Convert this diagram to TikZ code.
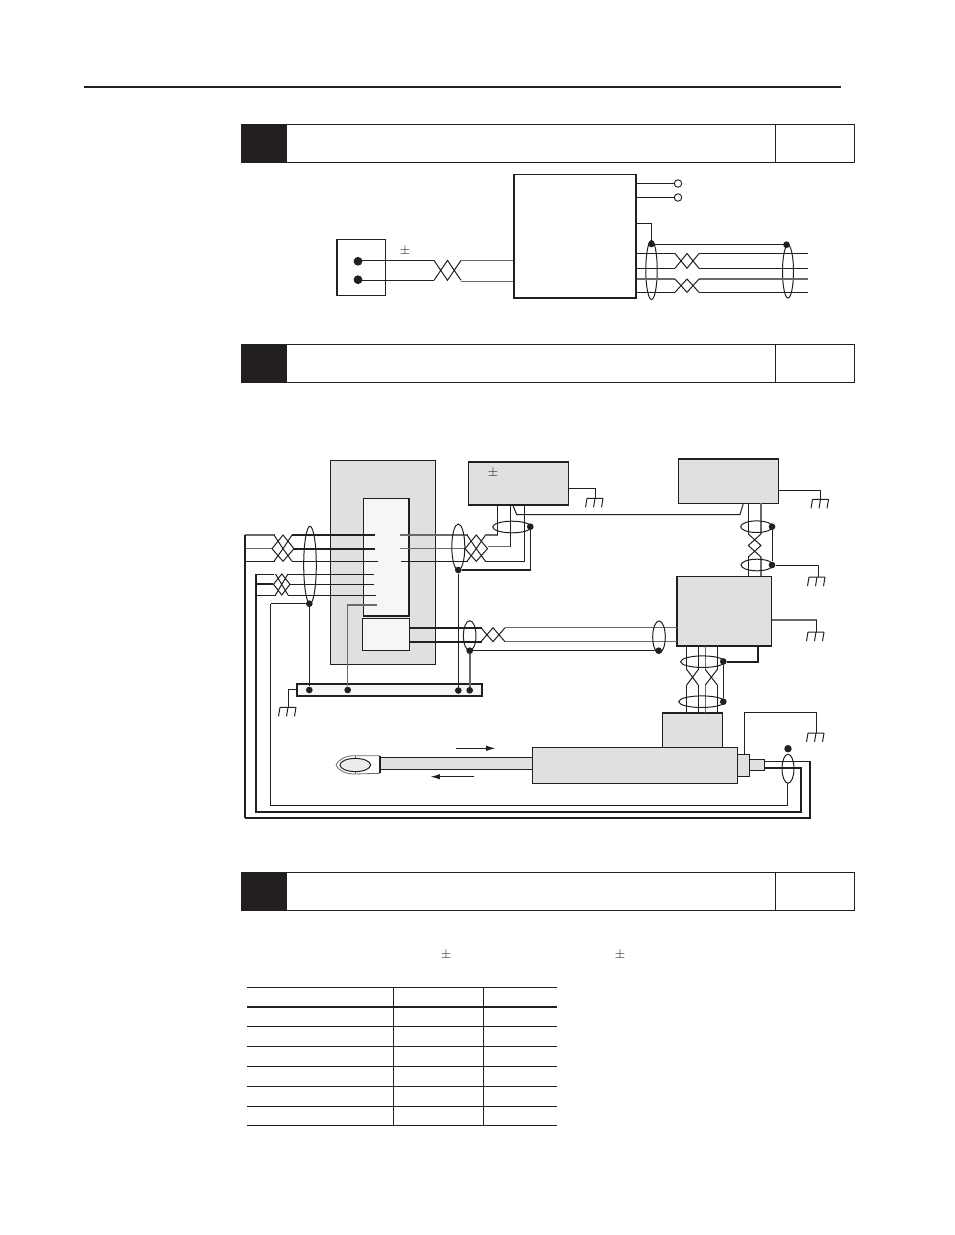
\documentclass[tikz,border=0pt]{standalone}
\usetikzlibrary{fit,arrows.meta}
\definecolor{ink}{HTML}{231F20}
\definecolor{panel}{HTML}{E0E0E0}
\definecolor{pale}{HTML}{F6F6F6}
\definecolor{gw}{HTML}{6A6A6A}
\tikzset{
  x=0.75pt,y=-0.75pt,
  wire/.style={draw=ink,line width=0.75pt},
  gwire/.style={draw=gw,line width=1pt},
  thin wire/.style={draw=ink,line width=0.5pt},
  hvy/.style={draw=ink,line width=1.5pt},
  box/.style={draw=ink,line width=0.9pt,inner sep=0pt,fit={#1}},
  gbox/.style={box={#1},fill=panel},
  wbox/.style={box={#1},fill=pale},
  dot/.style={circle,fill=ink,inner sep=0pt,minimum size=5pt},
  bigdot/.style={circle,fill=ink,inner sep=0pt,minimum size=6.6pt},
  ring/.style={draw=ink,line width=0.75pt},
  head/.style={draw=ink,line width=0.7pt},
  pm/.style={inner sep=0pt,text=ink},
  arrowline/.style={draw=ink,line width=0.7pt,-{Latex[length=7pt,width=4pt]}},
}
\newcommand{\twistH}[5][wire]{\draw[#1] (#2,#4) -- ({(#2+#3)/2},#5) -- (#3,#4) (#2,#5) -- ({(#2+#3)/2},#4) -- (#3,#5);}
\newcommand{\twistV}[5][wire]{\draw[#1] (#4,#2) -- (#5,{(#2+#3)/2}) -- (#4,#3) (#5,#2) -- (#4,{(#2+#3)/2}) -- (#5,#3);}
\newcommand{\crossV}[5][wire]{\draw[#1] (#4,#2) -- (#5,#3) (#5,#2) -- (#4,#3);}
% three-wire twist: x1 x2 ytop ymid ybottom
\newcommand{\twistT}[5]{\draw[wire] (#1,#4) -- ({(#1+#2)/2},#3) -- (#2,#4) -- ({(#1+#2)/2},#5) -- cycle
  ({#1+2},#3) -- ({(#1+#2)/2},#4) -- ({#2-2},#3)
  ({#1+2},#5) -- ({(#1+#2)/2},#4) -- ({#2-2},#5);}
\newcommand{\earth}[2]{\draw[wire] ({#1-8},#2) -- ({#1+8},#2)
  ({#1-8},#2) -- ({#1-9.5},{#2+9}) (#1,#2) -- ({#1-1.5},{#2+9}) ({#1+8},#2) -- ({#1+6.5},{#2+9});}
\newcommand{\header}[2]{%
  \node[draw=none,fill=ink,inner sep=0pt,fit={(241,#1)(287,#2)}] (hd#1) {};
  \draw[head] (241,#1) -- (854,#1) -- (854,#2) -- (241,#2) (775.5,#1) -- (775.5,#2);}
\begin{document}
\begin{tikzpicture}
\useasboundingbox (0,0) rectangle (954,1235);
\fill[white] (0,0) rectangle (954,1235);
\coordinate (ruleL) at (84,87); \coordinate (ruleR) at (841,87);
\draw[draw=ink,line width=1.2pt] (ruleL) -- (ruleR);
\header{124.5}{162.5}
\header{344.5}{382.5}
\header{872.5}{910.5}

%%% ---------- first diagram ----------
\node[box={(337,239.5)(385.5,295.5)}] (sensor) {};
\node[box={(514,174.5)(636,298)}] (unit) {};
\node[bigdot] (s1) at (358,261.3) {};
\node[bigdot] (s2) at (358,279.7) {};
\node[pm] (pmA) at (405,251.5) {$\pm$};
\draw[wire] (358,260.4) -- (434,260.4) (358,280.3) -- (434,280.3);
\twistH{434}{461}{260.4}{280.3}
\draw[gwire] (461,260.7) -- (unit.west |- 0,260.7);
\draw[gwire,line width=0.8pt] (461,281.5) -- (unit.west |- 0,281.5);
\node[circle,draw=ink,line width=0.7pt,inner sep=0pt,minimum size=5.6pt] (o1) at (678,183.5) {};
\node[circle,draw=ink,line width=0.7pt,inner sep=0pt,minimum size=5.6pt] (o2) at (678,197.5) {};
\draw[wire] (unit.east |- o1) -- (o1);
\draw[wire] (unit.east |- o2) -- (o2);
\node[dot] (u1) at (651.5,244) {};
\node[dot] (u2) at (786.5,244.7) {};
\draw[wire] (unit.east |- 0,223.5) -- (651.5,223.5) -- (u1);
\draw[wire] (651.5,244.5) -- (786.5,244.5);
\draw[ring] (651.5,270) ellipse (5.7 and 29.5);
\draw[ring] (788,271.5) ellipse (5.5 and 26.5);
\draw[wire] (unit.east |- 0,253.5) -- (675,253.5) (unit.east |- 0,268.3) -- (675,268.3)
  (699,253.5) -- (807.5,253.5) (699,268.3) -- (807.5,268.3)
  (699,292.3) -- (808,292.3) (unit.east |- 0,292.3) -- (675,292.3);
\draw[gwire,line width=0.8pt] (unit.east |- 0,279) -- (675,279) (699,279) -- (808,279);
\twistH{675}{699}{253.5}{268.3}
\twistH{675}{699}{279}{292.3}

%%% ---------- second diagram: drive panel ----------
\node[gbox={(330.7,460.3)(435.3,664)},line width=0.6pt] (panel) {};
\draw[hvy,line width=1.1pt] (panel.north east) -- (panel.south east) -- (panel.south west);
\node[wbox={(363.7,498.7)(409,615.7)}] (term) {};
\draw[hvy,line width=1.1pt] (term.north east) -- (term.south east) -- (term.south west);
\node[wbox={(362.3,618.7)(409.3,650.3)},line width=1.1pt] (term2) {};

\node[box={(296.7,684)(482,695.7)},fill=pale,line width=1.2pt] (bar) {};
\node[dot] (b1) at (309.3,690) {};
\node[dot] (b2) at (347.7,690) {};
\node[dot] (b3) at (458.3,690.5) {};
\node[dot] (b4) at (469.7,690.3) {};

\node[gbox={(468.3,462)(568.3,505)}] (amp) {};
\draw[hvy,line width=1.2pt] (amp.north west) -- (amp.north east) (amp.south west) -- (amp.south east);
\node[pm] (pmB) at (493,473.5) {$\pm$};
\node[gbox={(678.3,459)(778.3,503.3)}] (ctrl) {};
\draw[hvy,line width=1.3pt] (ctrl.north west) -- (ctrl.north east);

% left wire groups
\draw[gwire] (245,535) -- (275,535);
\draw[gwire] (245,548.7) -- (272,548.7);
\draw[wire] (245,561.3) -- (275,561.3);
\twistT{272}{294}{535}{548.7}{561.3}
\draw[hvy,line width=1.3pt] (292,535) -- (375,535) (294,548.7) -- (375,548.7);
\draw[wire] (292,561.3) -- (378,561.3);
\draw[wire] (256,574) -- (274,574) (256,595) -- (276,595);
\draw[hvy] (256,584.3) -- (273,584.3);
\twistT{273.5}{290}{574}{584.3}{595}
\draw[wire] (288,574) -- (374.3,574) (288,595) -- (376,595);
\draw[hvy,line width=1.1pt] (290,584.3) -- (374.3,584.3);
\draw[ring] (310,565) ellipse (6.3 and 38.7);
\node[dot] (sl) at (309.3,603.7) {};
\draw[wire] (270.7,603.7) -- (sl);
\draw[wire] (sl) -- (b1);
\draw[gwire] (377,605) -- (347.7,605) -- (b2);

% right wire group to amp
\draw[gwire] (400,535) -- (468,535) (400,548.7) -- (465,548.7);
\draw[wire] (401,561.3) -- (468,561.3);
\twistT{465}{487.5}{535}{548.7}{561.3}
\draw[gwire,line width=0.8pt] (485,535) -- (497.7,535);
\draw[draw=ink,line width=0.6pt] (497.7,535) -- (497.7,505);
\draw[gwire,line width=0.8pt] (487.5,546.7) -- (510,546.7);
\draw[draw=ink,line width=0.6pt] (510,546.7) -- (510,505);
\draw[wire] (485,561.3) -- (524.3,561.3) -- (524.3,505);
\draw[ring] (458.3,547) ellipse (6.5 and 23);
\node[dot] (sr) at (458.3,570) {};
\node[dot] (sa) at (530.3,526.7) {};
\draw[ring] (512,527) ellipse (19.3 and 5.8);
\draw[hvy,line width=1.1pt] (sr) -- (530.3,570) -- (sa);
\draw[wire] (sr) -- (b3);

% amp to controller link
\coordinate (lkA) at (512.7,505); \coordinate (lkB) at (743.3,503.5);
\draw[wire] (lkA) -- (516.7,514.5) -- (740,514.5) -- (lkB);

% amp earth
\draw[wire] (amp.east |- 0,488.3) -- (595.3,488.3) -- (595.3,498.3);
\earth{595}{498.3}
% controller earth
\draw[wire] (ctrl.east |- 0,490) -- (820.7,490) -- (820.7,499.3);
\earth{820.5}{499.3}

% controller box lower
\node[gbox={(677.3,576.3)(771.7,646)}] (drv) {};
\draw[hvy,line width=1.3pt] (drv.north west) -- (drv.south west) -- (drv.south east);
\draw[wire] (748.3,503.3) -- (748.3,534) (748.3,557) -- (748.3,576.3);
\draw[gwire] (761,503.3) -- (761,534) (761,557) -- (761,576.3);
\twistV{534}{557}{748.3}{761}
\draw[ring] (756.7,526.7) ellipse (16 and 5.8);
\draw[ring] (757,565) ellipse (16 and 5.8);
\node[dot] (c1) at (772,526.7) {};
\node[dot] (c2) at (772,565) {};
\draw[wire] (c1) -- (c2);
\draw[wire] (c2) -- (818.3,565) -- (818.3,577);
\earth{817}{577}
\draw[gwire,line width=0.8pt] (drv.east |- 0,620) -- (816.7,620);
\draw[wire] (816.7,620) -- (816.7,632);
\earth{816}{632}

% feedback pair
\draw[hvy,line width=1.3pt] (term2.east |- 0,627.7) -- (482,627.7) (term2.east |- 0,641.7) -- (482,641.7);
\twistH{481}{505}{627.7}{641.7}
\draw[gwire] (505,627.7) -- (drv.west |- 0,627.7) (505,641.7) -- (drv.west |- 0,641.7);
\draw[ring] (469.7,635.7) ellipse (6.3 and 15);
\draw[ring] (659,637) ellipse (6.3 and 16);
\node[dot] (p1) at (469.7,650.7) {};
\node[dot] (p2) at (658.7,650.7) {};
\draw[wire] (p1) -- (p2);
\draw[gwire,line width=1.2pt] (p1) -- (b4);

% actuator
\node[gbox={(662.5,713.3)(722.5,748)},line width=0.75pt] (enc) {};
\draw[hvy,line width=1.2pt] (enc.north west) -- (enc.north east);
\node[gbox={(532,747.3)(737.3,783.3)},line width=0.75pt] (motor) {};
\node[gbox={(380,757.3)(532,769.3)},line width=0.75pt] (rod) {};
\node[gbox={(737.3,754.3)(749.6,776.7)},line width=0.75pt] (blockA) {};
\node[gbox={(749.6,759.3)(764.5,770.7)},line width=0.75pt] (blockB) {};

% motor feedback wires
\draw[wire] (686.7,646) -- (686.7,669.5) (698.3,646) -- (698.3,669.5)
  (686.7,685) -- (686.7,713.3) (698.3,685) -- (698.3,713.3);
\draw[gwire,line width=0.9pt] (705.3,646) -- (705.3,669.5) (705.3,685) -- (705.3,713.3);
\draw[wire] (717.3,646) -- (717.3,669.5) (717.3,685) -- (717.3,713.3);
\crossV{669.5}{685}{686.7}{698.3}
\crossV{669.5}{685}{705.3}{717.3}
\draw[ring] (702.7,661.7) ellipse (22 and 5.8);
\draw[ring] (701.7,701.7) ellipse (23 and 5.8);
\node[dot] (m1) at (723.3,661.5) {};
\node[dot] (m2) at (723.3,701.7) {};
\draw[wire] (m1) -- (m2);
\draw[hvy] (m1) -- (758.3,661.5) -- (758.3,646.5);

% rod end
\draw[draw=gw,line width=0.6pt] (380,755.7) -- (354,755.7) .. controls (345,755.7) and (338,760) .. (336,765) .. controls (338,770) and (345,774) .. (354,774) -- (380,773.3);
\draw[draw=ink,line width=1pt] (380,756) -- (380,773);
\draw[ring,fill=panel!60] (355.3,765) ellipse (15.3 and 6.6);
\draw[draw=gw,line width=0.5pt] (355.3,755.7) -- (355.3,758.4) (355.3,771.6) -- (355.3,774);

\coordinate (arR1) at (456,748.3); \coordinate (arR2) at (495.5,748.3);
\coordinate (arL1) at (474,776.7); \coordinate (arL2) at (430.5,776.7);
\draw[arrowline] (arR1) -- (arR2);
\draw[arrowline] (arL1) -- (arL2);

% motor earth
\draw[wire,line width=0.6pt] (744.6,754.3) -- (744.6,712.7) -- (816.6,712.7) -- (816.6,733);
\earth{816}{733}

% bus returns
\draw[wire,line width=1.2pt] (245,535) -- (245,817.7);
\draw[hvy,line width=1.2pt] (blockB.east |- 0,761.5) -- (810,761.5) -- (810,817.7) -- (245,817.7);
\draw[hvy,line width=1.5pt] (256,574) -- (256,811.7) -- (800.5,811.7) -- (800.5,768) -- (blockB.east |- 0,768);
\draw[wire,line width=0.6pt] (270.7,603.7) -- (270.7,805) -- (787,805) -- (787,783);
\draw[ring] (788,768.7) ellipse (6 and 14.5);
\node[dot,minimum size=5.6pt] (md) at (788,748.7) {};

% bar earth
\draw[wire] (bar.west |- 0,689) -- (288.3,689) -- (288.3,707.3);
\earth{288}{707.3}

%%% ---------- table ----------
\node[pm] (pmC) at (446,955) {$\pm$};
\node[pm] (pmD) at (620,955) {$\pm$};
\draw[wire] (247,987.3) -- (557,987.3);
\draw[draw=ink,line width=1.3pt] (247,1007) -- (557,1007);
\foreach \yy in {1026.3,1046.3,1066.3,1086.3,1106.3,1125.3}
  \draw[wire] (247,\yy) -- (557,\yy);
\draw[wire] (393.7,987.3) -- (393.7,1125.3) (483.3,987.3) -- (483.3,1125.3);
\end{tikzpicture}
\end{document}
